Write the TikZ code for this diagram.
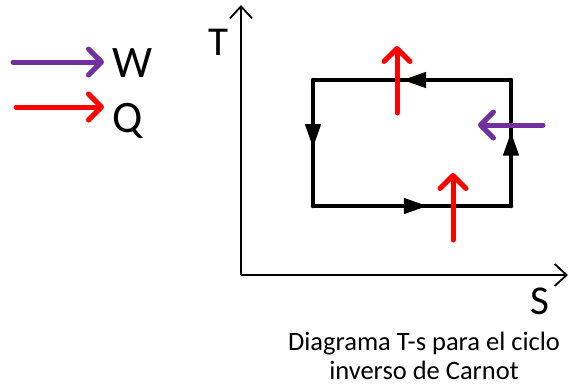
\documentclass[tikz,border=0pt]{standalone}
\usepackage{fontspec}
\setmainfont{Carlito}
\usetikzlibrary{arrows.meta, decorations.markings}

\definecolor{workviolet}{HTML}{7030A0}
\definecolor{heatred}{HTML}{FF0000}

\begin{document}
\begin{tikzpicture}[x=1pt, y=-1pt,
    axis/.style={line width=1.8pt, -{Straight Barb[length=12pt,width=22pt]}},
    heat/.style={line width=5pt, heatred, line cap=round, -{Straight Barb[round,length=13pt,width=26pt]}},
    work/.style={line width=5pt, workviolet, line cap=round, -{Straight Barb[round,length=13pt,width=26pt]}},
    side/.style={line width=4.5pt, line cap=round},
    flow/.style={postaction=decorate, decoration={markings,
        mark=at position #1 with {\arrow{Triangle[length=24pt,width=15pt]}}}},
    big/.style={inner sep=0pt, font=\fontsize{45}{45}\selectfont},
    axlabel/.style={inner sep=0pt, font=\fontsize{41}{41}\selectfont}]
  \useasboundingbox (0,0) rectangle (569,386);

  % Legend
  \node[big, anchor=base west] (W) at (112,77) {W};
  \node[big, anchor=base west] (Q) at (112,132) {Q};
  \coordinate (wtail) at (13,62);
  \coordinate (qtail) at (16,107);
  \draw[work, shorten >=8pt] (wtail) -- (wtail -| W.west);
  \draw[heat, shorten >=8pt] (qtail) -- (qtail -| Q.west);

  % Axes
  \coordinate (O) at (241,275);
  \coordinate (Ttip) at (241,5);
  \coordinate (Stip) at (568,275);
  \draw[axis] (O) -- (Ttip);
  \draw[axis] (O) -- (Stip);
  \node[axlabel] (T) at (218,42) {T};
  \node[axlabel] (S) at (540,301) {S};

  % Cycle corners
  \coordinate (A) at (313,80);
  \coordinate (B) at (511,80);
  \coordinate (C) at (511,206);
  \coordinate (D) at (313,206);

  % Sides of the cycle, run counterclockwise
  \draw[side, flow=0.55] (B) -- (A);
  \draw[side, flow=0.54] (A) -- (D);
  \draw[side, flow=0.58] (D) -- (C);
  \draw[side, flow=0.59] (C) -- (B);

  % Heat and work arrows
  \coordinate (qtop0) at (397,113);
  \coordinate (qtop1) at (397,46);
  \coordinate (qbot0) at (453,240);
  \coordinate (qbot1) at (453,173);
  \coordinate (win0) at (543,125);
  \coordinate (win1) at (478,125);
  \draw[heat] (qtop0) -- (qtop1);
  \draw[heat] (qbot0) -- (qbot1);
  \draw[work] (win0) -- (win1);

  % Caption
  \node[align=center, inner sep=0pt, anchor=north, font=\fontsize{26.5}{29}\selectfont] (cap) at (424,332)
    {Diagrama T-s para el ciclo\\inverso de Carnot};
\end{tikzpicture}
\end{document}
